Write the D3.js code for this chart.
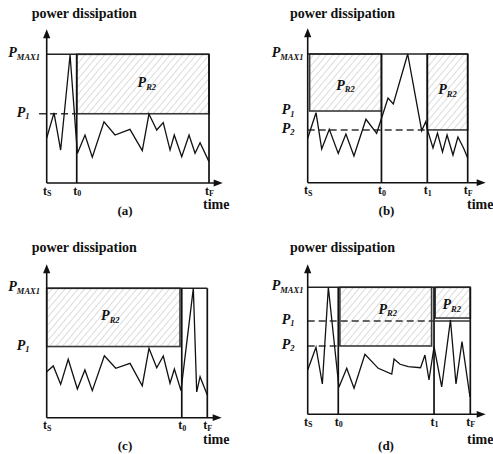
<!DOCTYPE html>
<html><head><meta charset="utf-8">
<script src="https://cdn.jsdelivr.net/npm/d3@7"></script>
<style>body{margin:0;background:#fff} svg{display:block}</style>
</head><body><svg id="c" width="493" height="454"></svg>
<script>
// ---------- data (time: tS=0 .. tF=100, power: axis=0 .. PMAX1=100) ----------
const panelNames = ["(a)", "(b)", "(c)", "(d)"];
const titleText = "power dissipation";
const axisName = "time";

const timeNamesA = ["S", "0", "F"];
const timeValuesA = [0, 18.5, 100];
const levelNamesA = ["MAX1", "1"];
const levelValuesA = [100, 53.8];
const regionsA = [[18.5, 100, 53.8, 100]];
const dashedA = [[53.8, -4.7, 18.5]];
const solidA = [];
const seriesA = [[0,35],[4.5,54.5],[8.6,25.6],[14.4,99.5],[18.9,23],[23.6,37.3],[28.1,20],[35.3,47.6],[42.1,37.3],[51.3,41.7],[58.9,25.1],[63.0,53.6],[67.8,41.2],[71.8,46.9],[76.0,25.6],[78.6,37.3],[83.2,20.4],[87.7,37.3],[91.4,23.1],[94.5,31.3],[100,16.6]];

const timeNamesB = ["S", "0", "1", "F"];
const timeValuesB = [0, 46.1, 74.75, 100];
const levelNamesB = ["MAX1", "1", "2"];
const levelValuesB = [100, 55.7, 41.0];
const regionsB = [[1.2, 46.1, 55.7, 100], [74.75, 100, 41.0, 100]];
const dashedB = [[41.0, 0, 74.75]];
const solidB = [];
const seriesB = [[0,34.5],[5.2,54.4],[8.75,26.2],[13.5,41.5],[19.1,22.8],[23.9,37.8],[28.9,20.7],[36.4,49.3],[43.1,38.4],[46.6,51.8],[50.2,65.8],[53.5,61.2],[62.5,100],[71.25,40.4],[73.75,47.4],[75.4,38.9],[78.3,27],[81.1,38.6],[84.25,23.9],[87.1,37.1],[90.8,21.5],[93.9,35.5],[97.4,27],[100,19.2]];

const timeNamesC = ["S", "0", "F"];
const timeValuesC = [0, 84.1, 100];
const levelNamesC = ["MAX1", "1"];
const levelValuesC = [100, 55];
const regionsC = [[0, 83.0, 55, 100]];
const dashedC = [];
const solidC = [];
const seriesC = [[0,35.5],[4.1,40],[8.7,25.8],[13.4,45.1],[19.1,22.2],[23.8,36.9],[28.4,20.9],[35.9,47.9],[43.0,38.2],[51.9,42.0],[59.5,24.7],[63.7,53.6],[68.5,38.6],[72.6,47.7],[76.8,26.6],[79.5,37.6],[83.6,20.9],[91.3,100],[93.4,19.9],[95.5,31.7],[100,17.5]];

const timeNamesD = ["S", "0", "1", "F"];
const timeValuesD = [0, 18.8, 77.7, 100];
const levelNamesD = ["MAX1", "1", "2"];
const levelValuesD = [100, 73.5, 53.8];
const regionsD = [[19.8, 76.2, 53.8, 100], [78.4, 100, 75.8, 100]];
const dashedD = [[73.5, 0, 77.7], [53.8, 0, 18.8]];
const solidD = [[73.5, 77.7, 100]];
const seriesD = [[0,34.9],[5.1,52.8],[9.0,23.9],[12.7,100],[19.2,21.3],[24.0,36.2],[28.5,20.5],[35.2,47.2],[43.4,36.2],[51.7,31.7],[53.1,43.5],[56.8,39.4],[61.9,37.5],[69.4,36.7],[72.1,46.7],[74.6,27],[77.7,53.2],[82.4,21.5],[87.8,74.3],[91.2,23.9],[94.9,57.2],[99.8,13.6]];

const panelData = [
  {timeNames: timeNamesA, timeValues: timeValuesA, levelNames: levelNamesA, levelValues: levelValuesA, regions: regionsA, dashed: dashedA, solid: solidA, series: seriesA},
  {timeNames: timeNamesB, timeValues: timeValuesB, levelNames: levelNamesB, levelValues: levelValuesB, regions: regionsB, dashed: dashedB, solid: solidB, series: seriesB},
  {timeNames: timeNamesC, timeValues: timeValuesC, levelNames: levelNamesC, levelValues: levelValuesC, regions: regionsC, dashed: dashedC, solid: solidC, series: seriesC},
  {timeNames: timeNamesD, timeValues: timeValuesD, levelNames: levelNamesD, levelValues: levelValuesD, regions: regionsD, dashed: dashedD, solid: solidD, series: seriesD}
];

// ---------- layout ----------
const layouts = [
  {x0:46.7, x1:209,   y0:183,   y1:54.3,  yTip:29.3,  xTip:222.7, titleX:31.7, titleY:17.5, timeX:203, timeY:208.5, capX:125,   capY:215, maxOff:38.4, pOff:30, rl:[[4,3]]},
  {x0:307.7,x1:467.7, y0:182.7, y1:54,    yTip:28.3,  xTip:485.7, titleX:290,  titleY:17.5, timeX:467, timeY:208.5, capX:386.5, capY:215, maxOff:36,   pOff:26, rl:[[0,7],[0,2.5]]},
  {x0:46.7, x1:207.3, y0:417.7, y1:288.3, yTip:264.3, xTip:221.7, titleX:31.7, titleY:251.5, timeX:203, timeY:443.5, capX:125,  capY:450, maxOff:38.4, pOff:30, rl:[[-3,3]]},
  {x0:307.7,x1:470.3, y0:414.3, y1:287.3, yTip:264.3, xTip:485.7, titleX:290,  titleY:251.5, timeX:467, timeY:443.5, capX:386,  capY:450, maxOff:36,   pOff:26, rl:[[2,-3],[-1,6.8]]}
];

const FONT = "Liberation Serif";
const svg = d3.select("#c");
svg.append("rect").attr("width", 493).attr("height", 454).attr("fill", "#fff");

const defs = svg.append("defs");
const pat = defs.append("pattern").attr("id", "hatch").attr("patternUnits", "userSpaceOnUse")
  .attr("width", 5).attr("height", 5).attr("patternTransform", "rotate(40)");
pat.append("rect").attr("width", 5).attr("height", 5).attr("fill", "#fff");
pat.append("line").attr("x1", 0).attr("y1", 0).attr("x2", 0).attr("y2", 5)
  .attr("stroke", "#bdbdbd").attr("stroke-width", 1.1);

function subText(sel, main, sub, mainSize, subSize, italic, dy) {
  sel.append("tspan").attr("font-size", mainSize).attr("font-style", italic ? "italic" : "normal").text(main);
  sel.append("tspan").attr("font-size", subSize).attr("font-style", italic ? "italic" : "normal").attr("dy", dy).text(sub);
}

layouts.forEach((L, i) => {
  const d = panelData[i];
  const x = d3.scaleLinear().domain([0, 100]).range([L.x0, L.x1]);
  const y = d3.scaleLinear().domain([0, 100]).range([L.y0, L.y1]);
  const g = svg.append("g");
  const pmax = d3.max(d.levelValues);

  // hatched PR2 regions
  g.selectAll("rect.region").data(d.regions).join("rect").attr("class", "region")
    .attr("x", r => x(r[0])).attr("y", r => y(r[3]))
    .attr("width", r => x(r[1]) - x(r[0])).attr("height", r => y(r[2]) - y(r[3]))
    .attr("fill", "url(#hatch)").attr("stroke", "#3a3a3a").attr("stroke-width", 1.6);

  // region labels
  g.selectAll("text.rl").data(d.regions).join("text").attr("class", "rl")
    .attr("x", (r, k) => (x(r[0]) + x(r[1])) / 2 + L.rl[k][0])
    .attr("y", (r, k) => (y(r[2]) + y(r[3])) / 2 + L.rl[k][1])
    .attr("text-anchor", "middle").attr("font-family", FONT).attr("font-weight", "bold").attr("fill", "#111")
    .each(function () { subText(d3.select(this), "P", "R2", 14, 8.5, true, 2.5); });

  // top PMAX line
  g.append("line").attr("x1", x(0)).attr("x2", x(100)).attr("y1", y(pmax)).attr("y2", y(pmax))
    .attr("stroke", "#222").attr("stroke-width", 1.6);

  // vertical time markers
  g.selectAll("line.v").data(d.timeValues.filter(t => t > 0)).join("line").attr("class", "v")
    .attr("x1", t => x(t)).attr("x2", t => x(t)).attr("y1", y(0)).attr("y2", y(pmax))
    .attr("stroke", "#111").attr("stroke-width", 1.7);

  // dashed and solid guides
  g.selectAll("line.dash").data(d.dashed).join("line").attr("class", "dash")
    .attr("x1", r => x(r[1])).attr("x2", r => x(r[2])).attr("y1", r => y(r[0])).attr("y2", r => y(r[0]))
    .attr("stroke", "#333").attr("stroke-width", 1.4).attr("stroke-dasharray", "7,4");
  g.selectAll("line.solid").data(d.solid).join("line").attr("class", "solid")
    .attr("x1", r => x(r[1])).attr("x2", r => x(r[2])).attr("y1", r => y(r[0])).attr("y2", r => y(r[0]))
    .attr("stroke", "#333").attr("stroke-width", 1.4);

  // the power trace
  g.append("path").datum(d.series)
    .attr("d", d3.line().x(p => x(p[0])).y(p => y(p[1])))
    .attr("fill", "none").attr("stroke", "#111").attr("stroke-width", 1.3).attr("stroke-linejoin", "miter");

  // axes with arrows
  g.append("line").attr("x1", L.x0).attr("x2", L.x0).attr("y1", L.y0).attr("y2", L.yTip + 6)
    .attr("stroke", "#111").attr("stroke-width", 1.6);
  g.append("path").attr("d", `M${L.x0},${L.yTip} L${L.x0 - 3.6},${L.yTip + 9} L${L.x0 + 3.6},${L.yTip + 9} Z`).attr("fill", "#111");
  g.append("line").attr("x1", L.x0).attr("x2", L.xTip - 6).attr("y1", L.y0).attr("y2", L.y0)
    .attr("stroke", "#111").attr("stroke-width", 1.6);
  g.append("path").attr("d", `M${L.xTip},${L.y0} L${L.xTip - 9},${L.y0 - 3.4} L${L.xTip - 9},${L.y0 + 3.4} Z`).attr("fill", "#111");

  // time tick labels via d3 axis
  const ax = g.append("g").attr("transform", `translate(0,${L.y0})`)
    .call(d3.axisBottom(x).tickValues(d.timeValues).tickSize(0).tickPadding(3).tickFormat(() => ""));
  ax.select(".domain").remove();
  ax.attr("font-family", FONT).attr("font-weight", "bold").attr("font-size", 12);
  ax.selectAll(".tick text").attr("fill", "#111").each(function (v, k) {
    const t = d3.select(this);
    t.text(null);
    subText(t, "t", d.timeNames[k], 12, 8, false, 1.5);
  });

  // power level labels
  g.selectAll("text.lv").data(d.levelValues).join("text").attr("class", "lv")
    .attr("x", (v, k) => L.x0 - (d.levelNames[k].length > 1 ? L.maxOff : L.pOff))
    .attr("y", v => y(v) + 3)
    .attr("font-family", FONT).attr("font-weight", "bold").attr("fill", "#111")
    .each(function (v, k) { subText(d3.select(this), "P", d.levelNames[k], 14, 8.5, true, 2.5); });

  // titles and captions
  g.append("text").attr("x", L.titleX).attr("y", L.titleY).attr("font-family", FONT).attr("font-weight", "bold")
    .attr("font-size", 14).attr("fill", "#111").text(titleText);
  g.append("text").attr("x", L.timeX).attr("y", L.timeY).attr("font-family", FONT).attr("font-weight", "bold")
    .attr("font-size", 14).attr("fill", "#111").text(axisName);
  g.append("text").attr("x", L.capX).attr("y", L.capY).attr("text-anchor", "middle").attr("font-family", FONT)
    .attr("font-weight", "bold").attr("font-size", 13).attr("fill", "#111").text(panelNames[i]);
});
</script>
</body></html>
